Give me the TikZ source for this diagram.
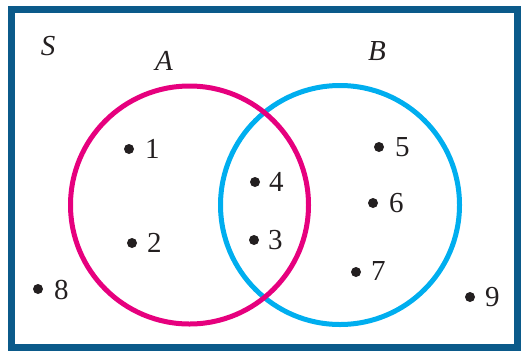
\documentclass[tikz,border=0pt]{standalone}
\usepackage{fontspec}
\setmainfont{Liberation Serif}
\definecolor{frameblue}{HTML}{0B5A8A}
\definecolor{setA}{HTML}{E6007E}
\definecolor{setB}{HTML}{00AEEF}
\definecolor{txt}{HTML}{231F20}
\begin{document}
\begin{tikzpicture}[x=1pt,y=-1pt,
  elem/.style={circle,fill=txt,inner sep=0pt,minimum size=10pt},
  num/.style={anchor=west,inner sep=0pt,text=txt,font=\fontsize{29}{29}\selectfont},
  setname/.style={inner sep=0pt,text=txt,font=\fontsize{29}{29}\selectfont\itshape},
  setcircle/.style={line width=5pt}]
\useasboundingbox (0,0) rectangle (521,351);
\draw[frameblue,line width=7pt] (11.5,9.5) rectangle (517.5,347.5);
\node[setname] (S) at (48,46) {S};
\node[setname] (A) at (164,61) {A};
\node[setname] (B) at (377,51) {B};
\draw[setcircle,setB] (340,205) circle[radius=119.5];
\draw[setcircle,setA] (189.5,205) circle[radius=119];
\node[elem] (d1) at (129,149) {}; \node[num] (l1) at (145,149) {1};
\node[elem] (d2) at (132,243) {}; \node[num] (l2) at (147,243) {2};
\node[elem] (d4) at (255,182) {}; \node[num] (l4) at (269,182) {4};
\node[elem] (d3) at (254,240) {}; \node[num] (l3) at (268,240) {3};
\node[elem] (d5) at (379,147) {}; \node[num] (l5) at (395,147) {5};
\node[elem] (d6) at (373,203) {}; \node[num] (l6) at (389,203) {6};
\node[elem] (d7) at (356,272) {}; \node[num] (l7) at (371,271) {7};
\node[elem] (d8) at (38,289) {}; \node[num] (l8) at (54,290) {8};
\node[elem] (d9) at (470,297) {}; \node[num] (l9) at (485,297) {9};
\end{tikzpicture}
\end{document}
